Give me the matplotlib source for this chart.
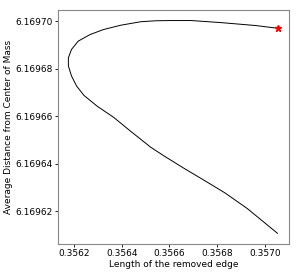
import matplotlib
matplotlib.use('Agg')
import matplotlib.pyplot as plt
from matplotlib.ticker import FormatStrFormatter

# traced curve: edge length vs average distance from center of mass
edge_len = [0.357056, 0.356960, 0.356819, 0.356691, 0.356607, 0.356543, 0.356480,
            0.356395, 0.356324, 0.356268, 0.356218, 0.356190, 0.356177, 0.356177,
            0.356190, 0.356211, 0.356242, 0.356298, 0.356367, 0.356437, 0.356522,
            0.356578, 0.356663, 0.356748, 0.356833, 0.356925, 0.356988, 0.357052]
avg_dist = [6.1696971, 6.1696983, 6.1696995, 6.1697004, 6.1697004, 6.1697003, 6.1696999,
            6.1696984, 6.1696966, 6.1696945, 6.1696917, 6.1696882, 6.1696847, 6.1696812,
            6.1696770, 6.1696728, 6.1696688, 6.1696642, 6.1696595, 6.1696537, 6.1696469,
            6.1696432, 6.1696379, 6.1696328, 6.1696276, 6.1696211, 6.1696159, 6.1696106]

fig = plt.figure(figsize=(3, 2.75), dpi=100)
ax = fig.add_axes([0.193, 0.113, 0.77, 0.851])

ax.plot(edge_len, avg_dist, color='black', linewidth=0.7)
ax.plot(edge_len[0], avg_dist[0], marker='*', color='red', markersize=5, linestyle='none')

ax.set_xticks([0.3562, 0.3564, 0.3566, 0.3568, 0.3570])
ax.set_yticks([6.16962, 6.16964, 6.16966, 6.16968, 6.16970])
ax.xaxis.set_major_formatter(FormatStrFormatter('%.4f'))
ax.yaxis.set_major_formatter(FormatStrFormatter('%.5f'))
ax.tick_params(labelsize=6.5, length=2.5, width=0.6, pad=1.5)

ax.set_xlabel('Length of the removed edge', fontsize=6.5, labelpad=1)
ax.set_ylabel('Average Distance from Center of Mass', fontsize=6.5, labelpad=1.5)

for s in ax.spines.values():
    s.set_color('#888888')
    s.set_linewidth(0.8)

fig.savefig('out.png', dpi=100)
